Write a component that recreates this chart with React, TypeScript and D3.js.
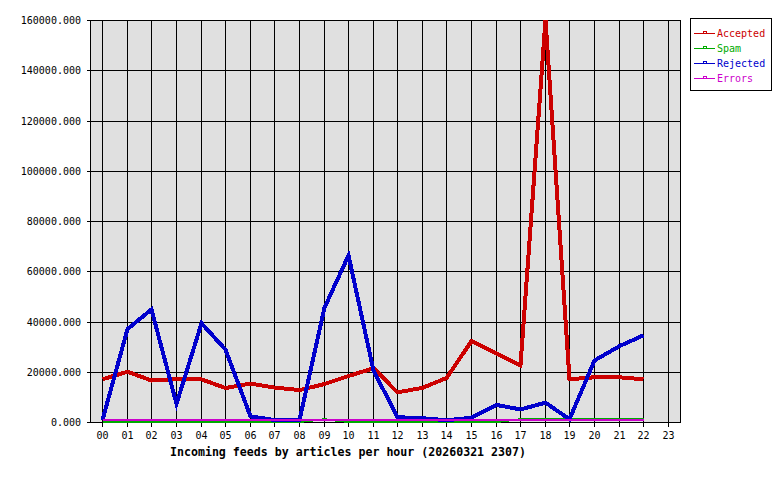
import React from "react";
import * as d3 from "d3";

const hours = ["00","01","02","03","04","05","06","07","08","09","10","11","12","13","14","15","16","17","18","19","20","21","22","23"];
const yTicks = [0, 20000, 40000, 60000, 80000, 100000, 120000, 140000, 160000];

const accepted = [17000, 20000, 16500, 17000, 17000, 13500, 15300, 13700, 12700, 15100, 18300, 21400, 11800, 13600, 17500, 32200, 27200, 22500, 160000, 17000, 17800, 17800, 17000];
const spam = [0, 0, 0, 0, 0, 0, 0, 0, 0, 1100, 0, 0, 0, 0, 0, 0, 0, 1100, 1100, 1100, 1100, 1100, 1100];
const rejected = [800, 37000, 44800, 7200, 39300, 28800, 2200, 800, 800, 45500, 66300, 20500, 1900, 1500, 700, 1700, 6800, 5000, 7700, 1100, 24500, 30200, 34500];
const errors = [600, 600, 600, 600, 600, 600, 600, 600, 600, 600, 600, 600, 600, 600, 600, 600, 600, 600, 600, 600, 600, 600, 600];

const seriesNames = ["Accepted", "Spam", "Rejected", "Errors"];
const seriesColors = ["#cc0000", "#00aa00", "#0000cc", "#cc00cc"];
const seriesWidths = [4, 2, 4, 2];
const seriesData = [accepted, spam, rejected, errors];

const title = "Incoming feeds by articles per hour (20260321 2307)";

export default function App() {
  const W = 780, H = 480;
  const left = 90, right = 680, top = 20, bottom = 422;
  const x = d3.scaleBand<string>().domain(hours).range([left, right]);
  const cx = (h: string) => Math.round((x(h) as number) + x.bandwidth() / 2) + 0.5;
  const y = d3.scaleLinear().domain([0, 160000]).range([bottom, top]);
  const font = "'DejaVu Sans Mono', monospace";

  const line = (vals: number[]) =>
    d3.line<number>()
      .x((_, i) => cx(hours[i]))
      .y((v) => y(v))(vals) as string;

  return (
    <svg width={W} height={H} style={{ position: "absolute", left: 0, top: 0, background: "#fff" }}>
      <rect x={left + 0.5} y={top + 0.5} width={right - left} height={bottom - top} fill="#e0e0e0" stroke="none" />
      {yTicks.map((t) => {
        const yy = Math.round(y(t)) + 0.5;
        return (
          <g key={t}>
            <line x1={left - 3} x2={right} y1={yy} y2={yy} stroke="#000" shapeRendering="crispEdges" />
            <text x={81} y={yy} dy="0.35em" textAnchor="end" fontFamily={font} fontSize={10} fill="#000">
              {t.toFixed(3)}
            </text>
          </g>
        );
      })}
      {hours.map((h) => {
        const xx = cx(h);
        return (
          <g key={h}>
            <line x1={xx} x2={xx} y1={top} y2={bottom + 5} stroke="#000" shapeRendering="crispEdges" />
            <text x={xx} y={435} dy="0.35em" textAnchor="middle" fontFamily={font} fontSize={10} fill="#000">
              {h}
            </text>
          </g>
        );
      })}
      <rect x={left + 0.5} y={top + 0.5} width={right - left} height={bottom - top} fill="none" stroke="#000" shapeRendering="crispEdges" />
      {seriesData.map((vals, i) => (
        <path key={i} d={line(vals)} fill="none" stroke={seriesColors[i]} strokeWidth={seriesWidths[i]} shapeRendering="crispEdges" />
      ))}
      <text x={170} y={452} dy="0.35em" fontFamily={font} fontWeight="bold" fontSize={11.6} fill="#000">
        {title}
      </text>
      <rect x={690.5} y={18.5} width={81} height={72} fill="#fff" stroke="#000" shapeRendering="crispEdges" />
      {seriesNames.map((n, i) => {
        const yy = 33 + i * 15 + 0.5;
        return (
          <g key={n}>
            <line x1={694} x2={715} y1={yy} y2={yy} stroke={seriesColors[i]} shapeRendering="crispEdges" />
            <rect x={703.5} y={yy - 2} width={3} height={2} fill="none" stroke={seriesColors[i]} shapeRendering="crispEdges" />
            <text x={717} y={yy} dy="0.35em" fontFamily={font} fontSize={10} fill={seriesColors[i]}>
              {n}
            </text>
          </g>
        );
      })}
    </svg>
  );
}
